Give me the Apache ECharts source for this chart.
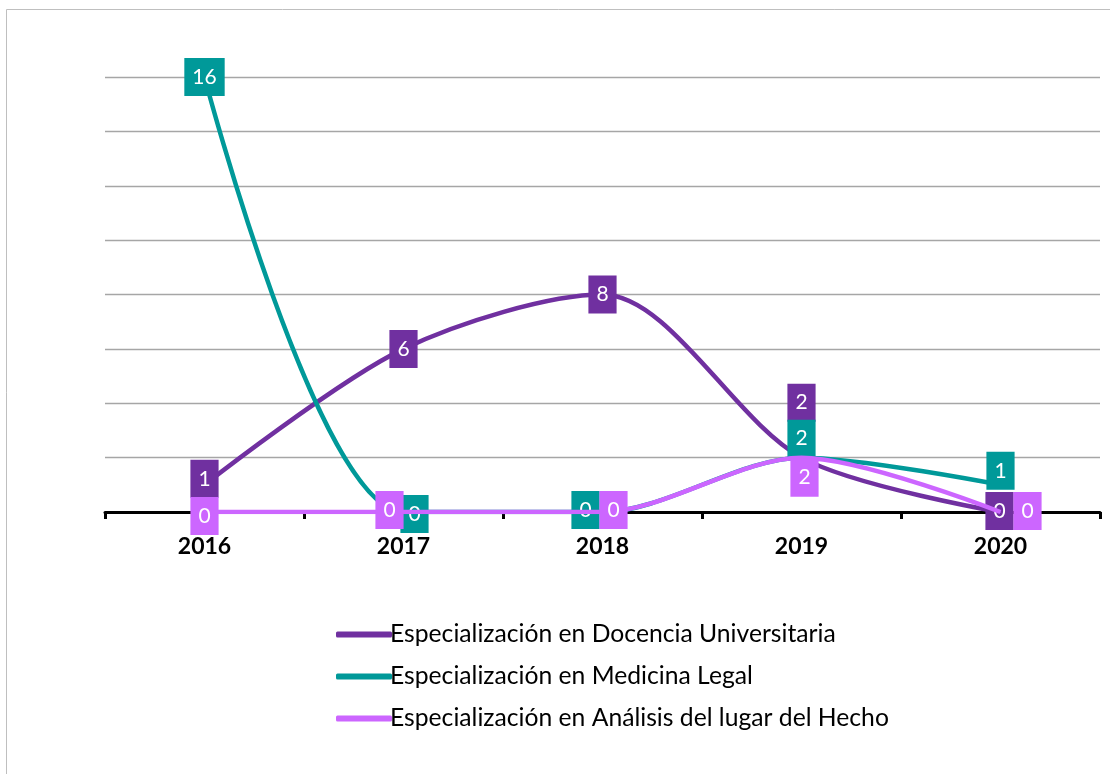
<!DOCTYPE html>
<html>
<head>
<meta charset="utf-8">
<script src="https://cdn.jsdelivr.net/npm/echarts@6/dist/echarts.min.js"></script>
<style>
  html, body { margin: 0; padding: 0; background: #fff; }
  #chart { width: 1110px; height: 774px; }
</style>
</head>
<body>
<div id="chart"></div>
<script>
const years = ['2016', '2017', '2018', '2019', '2020'];
const seriesNames = [
  'Especialización en Docencia Universitaria',
  'Especialización en Medicina Legal',
  'Especialización en Análisis del lugar del Hecho'
];
const docencia = [1, 6, 8, 2, 0];
const medicina = [16, 0, 0, 2, 1];
const analisis = [0, 0, 0, 2, 0];

const colors = ['#7030A0', '#009999', '#CC66FF'];
// nudges so overlapping labels sit side by side like the original
const labelShift = [
  [[0, -6], [0, 0], [0, 0], [0, -55], [-1, -1]],
  [[0, 0], [11, 2], [-17, -2], [0, -19], [0, -14]],
  [[0, 4], [-14, -2], [11, -2], [3, 20], [27, -1]]
];

const myChart = echarts.init(document.getElementById('chart'));

function buildSeries(idx, values) {
  return {
    name: seriesNames[idx],
    type: 'line',
    smooth: 0.3,
    symbol: 'circle',
    symbolSize: 1,
    color: colors[idx],
    lineStyle: { width: 4.5, color: colors[idx] },
    itemStyle: { color: colors[idx] },
    z: 2 + idx,
    data: values.map((v, i) => ({
      value: v,
      label: { offset: labelShift[idx][i] }
    })),
    label: {
      show: true,
      position: 'inside',
      color: '#fff',
      fontFamily: 'Lato',
      fontSize: 21,
      lineHeight: 24,
      padding: [7, 8],
      backgroundColor: colors[idx]
    }
  };
}

const option = {
  animation: false,
  backgroundColor: '#fff',
  graphic: [{
    type: 'rect',
    shape: { x: 6.5, y: 9.5, width: 1200, height: 900 },
    style: { fill: 'none', stroke: '#BFBFBF', lineWidth: 1 },
    silent: true
  }],
  grid: { left: 105, right: 10, top: 77, bottom: 262 },
  legend: {
    orient: 'vertical',
    left: 331,
    top: 617,
    itemGap: 17,
    itemWidth: 56,
    itemHeight: 6,
    icon: 'roundRect',
    textStyle: { fontFamily: 'Lato', fontSize: 24.7, color: '#000', padding: [0, 0, 0, -7] },
    data: seriesNames
  },
  xAxis: {
    type: 'category',
    data: years,
    boundaryGap: true,
    axisLine: { lineStyle: { color: '#000', width: 3 } },
    axisTick: { show: true, length: 7, lineStyle: { color: '#000', width: 3 } },
    axisLabel: { fontFamily: 'Lato', fontWeight: 'bold', fontSize: 23, color: '#000', margin: 23 }
  },
  yAxis: {
    type: 'value',
    min: 0,
    max: 16,
    interval: 2,
    axisLabel: { show: false },
    axisLine: { show: false },
    axisTick: { show: false },
    splitLine: { lineStyle: { color: '#A6A6A6', width: 1.3 } }
  },
  series: [
    buildSeries(0, docencia),
    buildSeries(1, medicina),
    buildSeries(2, analisis)
  ]
};

myChart.setOption(option);
window.addEventListener('resize', function () { myChart.resize(); });
</script>
</body>
</html>
